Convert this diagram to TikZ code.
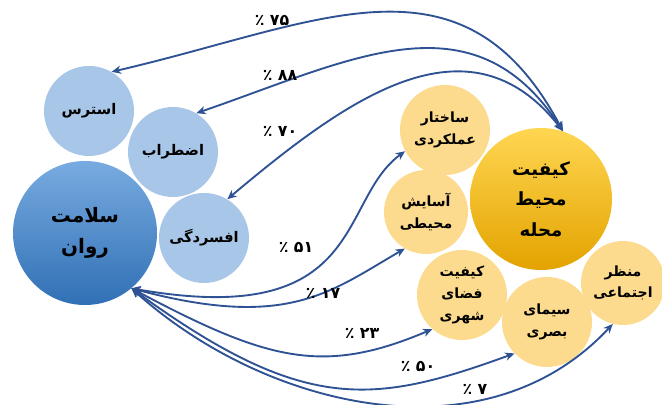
\documentclass[tikz,border=0pt]{standalone}
\usepackage{fontspec}
\usepackage{tikz}
\usetikzlibrary{arrows.meta}
\TeXXeTstate=1
\newfontfamily\arabicfont[Script=Arabic]{DejaVu Sans}
\newcommand{\fatext}[1]{\beginR #1\endR}
\newcommand{\fapct}[1]{\beginR\beginL #1\endL{} ٪\endR}
\definecolor{mlink}{rgb}{0.18, 0.32, 0.58}
\definecolor{mpaleblue}{rgb}{0.66, 0.78, 0.91}
\definecolor{mtopblue}{rgb}{0.47, 0.67, 0.88}
\definecolor{mbotblue}{rgb}{0.19, 0.44, 0.71}
\definecolor{mpalegold}{rgb}{0.99, 0.86, 0.56}
\definecolor{mtopgold}{rgb}{1, 0.84, 0.32}
\definecolor{mbotgold}{rgb}{0.89, 0.64, 0}
\tikzset{smallblue/.style = {circle, fill=mpaleblue, inner sep = 0, align=center,
                             font=\arabicfont\bfseries\fontsize{12.5}{18}\selectfont}}
\tikzset{smallgold/.style = {circle, fill=mpalegold, inner sep = 0, align=center,
                             font=\arabicfont\bfseries\fontsize{12}{18.5}\selectfont}}
\tikzset{bigblue/.style = {circle, top color=mtopblue, bottom color=mbotblue, inner sep = 0,
                           align=center, minimum size = 4.32cm,
                           font=\arabicfont\bfseries\fontsize{17}{27}\selectfont}}
\tikzset{biggold/.style = {circle, top color=mtopgold, bottom color=mbotgold, inner sep = 0,
                           align=center, minimum size = 4.26cm,
                           font=\arabicfont\bfseries\fontsize{15.5}{26}\selectfont}}
\tikzset{link/.style = {draw=mlink, line width=1.6pt,
                        {Stealth[length=8pt, width=7pt, inset=2.5pt]}-{Stealth[length=8pt, width=7pt, inset=2.5pt]}}}
\tikzset{pct/.style = {font=\arabicfont\bfseries\fontsize{13.5}{15}\selectfont, inner sep = 1}}

\begin{document}
\begin{tikzpicture}[x=0.03cm, y=0.03cm]
    \useasboundingbox (0, 0) rectangle (662, -405);

    \node [smallblue, minimum size = 2.7cm] (stress) at (89, -111) {\fatext{استرس}};
    \node [smallblue, minimum size = 2.7cm] (anxiety) at (173, -152) {\fatext{اضطراب}};
    \node [smallblue, minimum size = 2.7cm] (depress) at (204, -238) {\fatext{افسردگی}};
    \node [bigblue] (mental) at (85, -233) {\fatext{سلامت}\\\fatext{روان}};

    \node [smallgold, minimum size = 2.7cm] (struct) at (445, -130) {\fatext{ساختار}\\\fatext{عملکردی}};
    \node [smallgold, minimum size = 2.52cm] (comfort) at (426, -212) {\fatext{آسایش}\\\fatext{محیطی}};
    \node [smallgold, minimum size = 2.7cm] (urban) at (462, -295) {\fatext{کیفیت}\\\fatext{فضای}\\\fatext{شهری}};
    \node [smallgold, minimum size = 2.7cm] (visual) at (547, -322) {\fatext{سیمای}\\\fatext{بصری}};
    \node [smallgold, minimum size = 2.52cm] (social) at (623, -283) {\fatext{منظر}\\\fatext{اجتماعی}};
    \node [biggold] (quality) at (541, -199) {\fatext{کیفیت}\\\fatext{محیط}\\\fatext{محله}};

    \draw [link] (quality.72) to [out=118, in=13, looseness=1.2] (stress.60);
    \draw [link] (quality.72) to [out=123, in=19, looseness=1.15] (anxiety.59);
    \draw [link] (quality.72) to [out=128, in=40, looseness=1.15] (depress.59);

    \draw [link] (mental.-50) to [out=-10, in=216, out looseness=2, in looseness=0.7] (struct.208);
    \draw [link] (mental.-50) to [out=-15, in=210, out looseness=1.5, in looseness=0.8] (comfort.240);
    \draw [link] (mental.-50) to [out=-28, in=203, out looseness=1.3] (urban.229);
    \draw [link] (mental.-50) to [out=-36, in=200, out looseness=1.4] (visual.224);
    \draw [link] (mental.-50) to [out=-42, in=227, out looseness=0.95, in looseness=1] (social.256);

    \node [pct] (p75) at (272, -20) {\fapct{۷۵}};
    \node [pct] (p88) at (280, -75) {\fapct{۸۸}};
    \node [pct] (p70) at (280, -131) {\fapct{۷۰}};
    \node [pct] (p51) at (296, -247) {\fapct{۵۱}};
    \node [pct] (p17) at (323, -293) {\fapct{۱۷}};
    \node [pct] (p23) at (362, -333) {\fapct{۲۳}};
    \node [pct] (p50) at (418, -366) {\fapct{۵۰}};
    \node [pct] (p7) at (475, -389) {\fapct{۷}};
\end{tikzpicture}
\end{document}
